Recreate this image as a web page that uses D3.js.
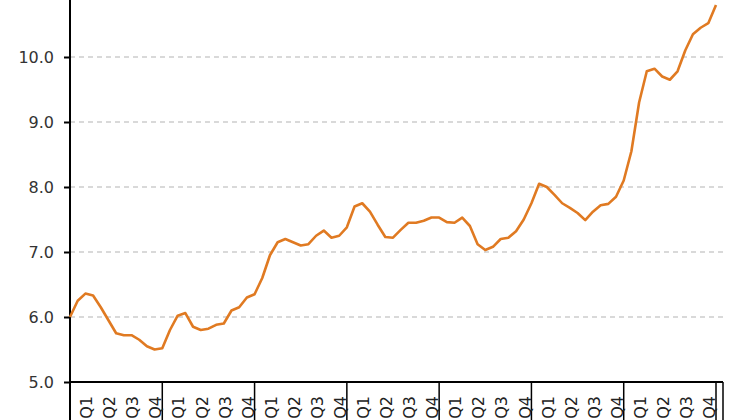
<!DOCTYPE html>
<html lang="en">
<head>
  <meta charset="UTF-8">
  <title>Chart</title>
  <script src="https://cdn.jsdelivr.net/npm/d3@7"></script>
  <style>
    body { margin: 0; background: #fff; }
    svg { display: block; font-family: "DejaVu Sans", Verdana, sans-serif; }
  </style>
</head>
<body>
  <script>
    // monthly values, 7 years + 1 month
    const values = [
      6.00, 6.25, 6.36, 6.33, 6.15, 5.95, 5.75, 5.72, 5.72, 5.65, 5.55, 5.50,
      5.52, 5.80, 6.02, 6.06, 5.85, 5.80, 5.82, 5.88, 5.90, 6.10, 6.15, 6.30,
      6.35, 6.60, 6.95, 7.15, 7.20, 7.15, 7.10, 7.12, 7.25, 7.33, 7.22, 7.25,
      7.38, 7.70, 7.75, 7.62, 7.42, 7.23, 7.22, 7.34, 7.45, 7.45, 7.48, 7.53,
      7.53, 7.46, 7.45, 7.53, 7.40, 7.12, 7.03, 7.08, 7.20, 7.22, 7.32, 7.50,
      7.75, 8.05, 8.00, 7.88, 7.75, 7.68, 7.60, 7.49, 7.62, 7.72, 7.74, 7.85,
      8.10, 8.55, 9.30, 9.78, 9.82, 9.70, 9.65, 9.78, 10.10, 10.35, 10.45, 10.52,
      10.80
    ];
    const quarters = ["Q1", "Q2", "Q3", "Q4"];
    const years = 7;
    const yTicks = [5, 6, 7, 8, 9, 10];

    const W = 750, H = 420;
    const left = 70, right = 723, axisY = 382;

    const svg = d3.select("body").append("svg")
      .attr("width", W)
      .attr("height", H);

    const x = d3.scaleLinear()
      .domain([0, values.length - 1])
      .range([left, 716]);

    const y = d3.scaleLinear()
      .domain([5, 10])
      .range([axisY, 57]);

    // gridlines
    svg.append("g")
      .selectAll("line")
      .data(yTicks.filter(d => d > 5))
      .enter()
      .append("line")
      .attr("x1", left)
      .attr("x2", right)
      .attr("y1", d => y(d))
      .attr("y2", d => y(d))
      .attr("stroke", "#b4b4b4")
      .attr("stroke-width", 1.2)
      .attr("stroke-dasharray", "5,4");

    // y axis
    const yAxis = d3.axisLeft(y)
      .tickValues(yTicks)
      .tickFormat(d3.format(".1f"))
      .tickSize(6)
      .tickPadding(10);

    const gy = svg.append("g")
      .attr("transform", `translate(${left},0)`)
      .call(yAxis);
    gy.select(".domain").remove();
    gy.selectAll(".tick line").attr("stroke", "#000").attr("stroke-width", 2);
    gy.selectAll(".tick text")
      .attr("fill", "#333")
      .style("font-size", "16px")
      .style("font-family", "DejaVu Sans, Verdana, sans-serif");

    svg.append("line")
      .attr("x1", left).attr("x2", left)
      .attr("y1", 0).attr("y2", H)
      .attr("stroke", "#000").attr("stroke-width", 2);

    // x axis line
    svg.append("line")
      .attr("x1", left).attr("x2", right)
      .attr("y1", axisY).attr("y2", axisY)
      .attr("stroke", "#000").attr("stroke-width", 2);

    // year separators
    const seps = d3.range(1, years + 1).map(k => k * 12);
    svg.append("g")
      .selectAll("line")
      .data(seps)
      .enter()
      .append("line")
      .attr("x1", d => x(d))
      .attr("x2", d => x(d))
      .attr("y1", axisY)
      .attr("y2", H)
      .attr("stroke", "#000")
      .attr("stroke-width", 1.5);

    svg.append("line")
      .attr("x1", right).attr("x2", right)
      .attr("y1", axisY).attr("y2", H)
      .attr("stroke", "#000").attr("stroke-width", 1.5);

    // quarter labels
    const qLabels = [];
    for (let yr = 0; yr < years; yr++) {
      quarters.forEach((q, i) => qLabels.push({ q, m: yr * 12 + i * 3 + 1.5 }));
    }
    svg.append("g")
      .selectAll("text")
      .data(qLabels)
      .enter()
      .append("text")
      .attr("transform", d => `translate(${x(d.m) + 5},${axisY + 14}) rotate(-90)`)
      .attr("text-anchor", "end")
      .attr("dy", "0.35em")
      .attr("fill", "#222")
      .style("font-size", "16px")
      .text(d => d.q);

    // series
    const line = d3.line()
      .x((d, i) => x(i))
      .y(d => y(d));

    svg.append("path")
      .datum(values)
      .attr("fill", "none")
      .attr("stroke", "#e07a22")
      .attr("stroke-width", 2.6)
      .attr("stroke-linejoin", "round")
      .attr("d", line);
  </script>
</body>
</html>
